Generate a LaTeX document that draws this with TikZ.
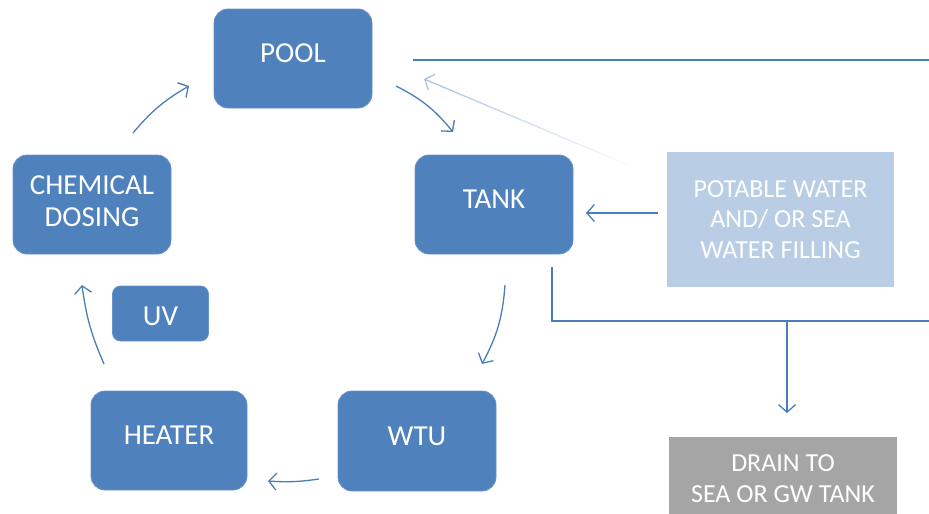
\documentclass[tikz,border=0pt]{standalone}
\usepackage{fontspec}
\setmainfont{Carlito}
\usetikzlibrary{arrows.meta,fadings}
\definecolor{boxblue}{HTML}{4F81BD}
\definecolor{lineblue}{HTML}{4A7EBB}
\definecolor{lightbox}{HTML}{B9CDE5}
\definecolor{fadeblue}{HTML}{A8C1E4}
\definecolor{graybox}{HTML}{A5A5A5}
\tikzset{
  proc/.style={draw=boxblue!85!white, fill=boxblue, rounded corners=14pt, text=white,
    font=\fontsize{29}{32}\selectfont, align=center, inner sep=0pt, line width=0.8pt,
    text depth=10pt},
  flat/.style={inner sep=0pt, text=white, align=center, font=\fontsize{26}{30.5}\selectfont},
  conn/.style={draw=lineblue, line width=1.3pt},
  arr/.style={conn, -{Straight Barb[length=7.5pt,width=17pt,line width=1.3pt]}},
}
\begin{document}
\begin{tikzpicture}[x=1pt,y=-1pt]
\clip (0,0) rectangle (929,514);
\fill[white] (0,0) rectangle (929,514);
% boxes
\node[proc, minimum width=158pt, minimum height=99pt] (pool) at (293,58.5) {POOL};
\node[proc, minimum width=158pt, minimum height=99pt] (tank) at (494,204.5) {TANK};
\node[proc, minimum width=158pt, minimum height=99pt, text depth=6pt] (chem) at (92,204.5) {CHEMICAL\\DOSING};
\node[proc, minimum width=96pt, minimum height=55pt, rounded corners=8pt, text depth=0pt, text height=24pt] (uv) at (160.5,313.5) {UV};
\node[proc, minimum width=156pt, minimum height=99pt] (heater) at (169,440.5) {HEATER};
\node[proc, minimum width=158pt, minimum height=100pt] (wtu) at (417,441) {WTU};
\node[flat, fill=lightbox, minimum width=227pt, minimum height=135pt] (potable) at (780.5,219.5) {POTABLE WATER\\AND/ OR SEA\\WATER FILLING};
\node[flat, fill=graybox, minimum width=228pt, minimum height=83pt, anchor=north] (drain) at (783,437) {DRAIN TO\\SEA OR GW TANK};
% free ends
\coordinate (topL) at (413,60);
\coordinate (topR) at (935,60);
\coordinate (dtop) at (552,267);
\coordinate (dcorner) at (552,321);
\coordinate (dright) at (935,321);
\coordinate (dbranch) at (787,321);
\coordinate (dend) at (787,413);
\coordinate (fadeS) at (640,170);
\coordinate (fadeE) at (424,79);
\coordinate (pwS) at (658,213);
\coordinate (pwE) at (586,213);
\coordinate (a1s) at (396,86);
\coordinate (a1e) at (453,132);
\coordinate (a2s) at (505,285);
\coordinate (a2e) at (482,364);
\coordinate (a3s) at (319,479);
\coordinate (a3e) at (268,481);
\coordinate (a4s) at (104,364);
\coordinate (a4e) at (82,285);
\coordinate (a5s) at (133,133);
\coordinate (a5e) at (189,86);
% connectors
\draw[conn] (topL) -- (topR);
\draw[conn] (dtop) -- (dcorner) -- (dright);
\draw[arr] (dbranch) -- (dend);
\draw[arr, draw=fadeblue, path fading=east] (fadeS) -- (fadeE);
\draw[arr] (pwS) -- (pwE);
\draw[arr] (a1s) to[bend left=12] (a1e);
\draw[arr] (a2s) to[bend left=12] (a2e);
\draw[arr] (a3s) to[bend left=6] (a3e);
\draw[arr] (a4s) to[bend left=8] (a4e);
\draw[arr] (a5s) to[bend left=10] (a5e);
\end{tikzpicture}
\end{document}
